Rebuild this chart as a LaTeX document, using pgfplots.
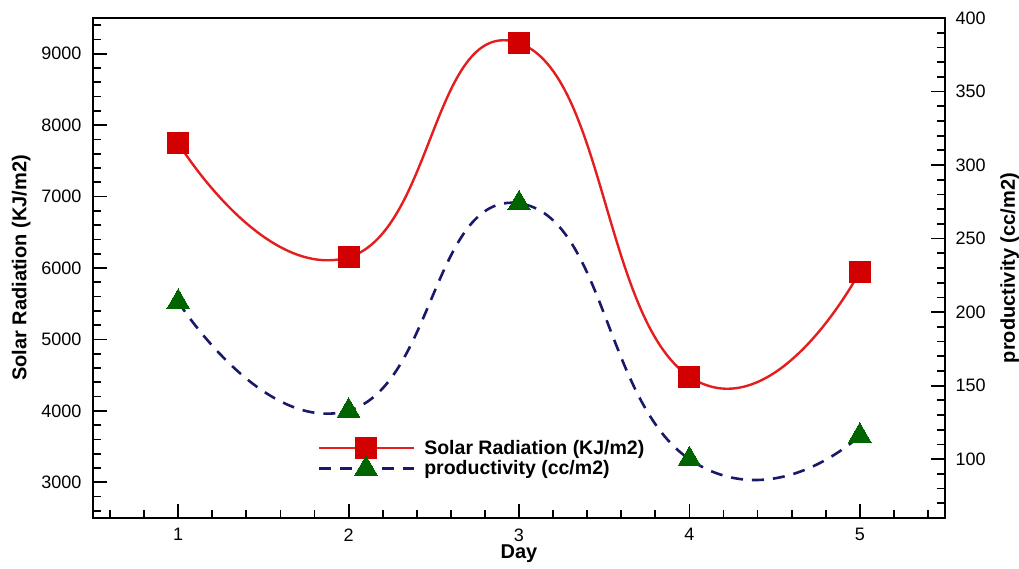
\documentclass[border=0pt]{standalone}
\usepackage{pgfplots}
\pgfplotsset{compat=1.18}
\usepackage{fontspec}
\setmainfont{Liberation Sans}
\definecolor{redl}{RGB}{228,30,30}
\definecolor{redm}{RGB}{210,0,0}
\definecolor{greenm}{RGB}{0,100,0}
\definecolor{navyl}{RGB}{25,25,105}
\pgfplotsset{
  common/.style={
    scale only axis, width=852pt, height=500pt,
    xmin=0.5, xmax=5.5,
    tick align=inside,
    major tick length=14pt, minor tick length=8pt,
    every tick/.style={black, line width=1.8pt},
    axis line style={line width=2.4pt},
    tick label style={font=\fontsize{18}{20}\selectfont},
    label style={font=\bfseries\fontsize{20}{23}\selectfont},
    /pgf/number format/assume math mode=true,
    clip=false,
  },
  redstyle/.style={redl, line width=2.4pt, smooth, tension=0.9, mark=square*, mark size=10.5pt, mark options={solid, fill=redm, draw=redm, line width=0pt}},
  navystyle/.style={navyl, line width=2.6pt, smooth, tension=0.9, dash pattern=on 12pt off 9pt, mark=triangle*, mark size=13pt, mark options={solid, fill=greenm, draw=greenm, line width=0pt}},
}
\begin{document}
\begin{tikzpicture}
\begin{axis}[common,
  ymin=2500, ymax=9500,
  xtick={1,2,3,4,5}, minor xtick={0.6,0.8,1.2,1.4,1.6,1.8,2.2,2.4,2.6,2.8,3.2,3.4,3.6,3.8,4.2,4.4,4.6,4.8,5.2,5.4},
  ytick={3000,4000,...,9000}, minor ytick={2600,2800,...,9400},
  xtick pos=bottom, ytick pos=left,
  xlabel={Day}, ylabel={Solar Radiation (KJ/m2)},
  xticklabel style={yshift=-7pt},
  yticklabel style={xshift=-8pt, /pgf/number format/1000 sep={}},
  xlabel style={yshift=3pt},
  ylabel style={yshift=4pt},
  scaled y ticks=false,
]
\addplot[redstyle] coordinates {(1,7750) (2,6150) (3,9150) (4,4480) (5,5950)};
\end{axis}
\begin{axis}[common,
  ymin=60, ymax=400,
  hide x axis,
  ytick={100,150,...,400}, minor ytick={70,80,...,390},
  ytick pos=right, yticklabel pos=right,
  yticklabel style={xshift=7pt},
  ylabel={productivity (cc/m2)},
  ylabel style={yshift=-8pt},
  legend style={draw=none, fill=none, at={(0.26,0.12)}, anchor=west,
    font=\bfseries\fontsize{19.5}{22}\selectfont, row sep=-3pt,
    nodes={inner xsep=9pt}},
  legend cell align=left,
  legend image code/.code={\draw[mark repeat=2, mark phase=2, #1] plot coordinates {(0pt,0pt) (47pt,0pt) (95pt,0pt)};},
]
\addlegendimage{redstyle}
\addlegendentry{Solar Radiation (KJ/m2)}
\addplot[navystyle] coordinates {(1,207) (2,133) (3,274) (4,100) (5,116)};
\addlegendentry{productivity (cc/m2)}
\end{axis}
\pgfresetboundingbox
\useasboundingbox (-93pt,-51pt) rectangle (926pt,518pt);
\end{tikzpicture}
\end{document}
